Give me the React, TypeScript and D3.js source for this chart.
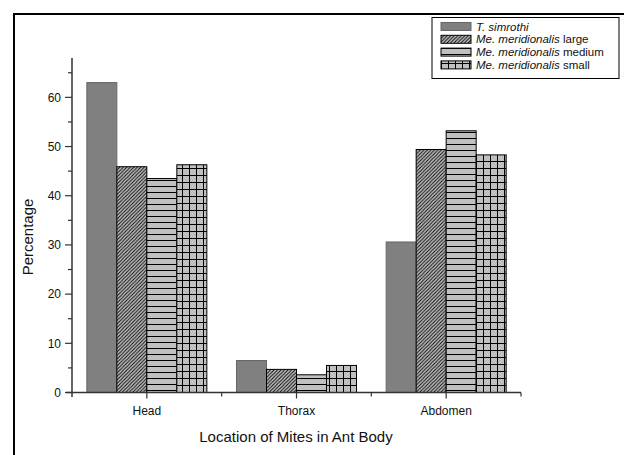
import React, { useEffect, useRef } from "react";
import * as d3 from "d3";

const categories = ["Head", "Thorax", "Abdomen"];
const seriesNames = [
  ["T. simrothi", ""],
  ["Me. meridionalis", " large"],
  ["Me. meridionalis", " medium"],
  ["Me. meridionalis", " small"],
];
const simrothi = [63.0, 6.5, 30.6];
const merLarge = [45.9, 4.7, 49.4];
const merMedium = [43.5, 3.6, 53.2];
const merSmall = [46.3, 5.5, 48.3];
const yTicks = [0, 10, 20, 30, 40, 50, 60];

const App = () => {
  const ref = useRef<SVGSVGElement>(null);

  useEffect(() => {
    const svg = d3.select(ref.current);
    svg.selectAll("*").remove();
    const font = "'Liberation Sans', Arial, sans-serif";

    const x = d3.scaleBand().domain(categories).range([72, 521]).padding(0);
    const y = d3.scaleLinear().domain([0, 68]).range([392.5, 58]);
    const inner = d3
      .scaleBand()
      .domain(["0", "1", "2", "3"])
      .range([0, 120]);

    // patterns
    const defs = svg.append("defs");
    const p1 = defs
      .append("pattern")
      .attr("id", "diag")
      .attr("patternUnits", "userSpaceOnUse")
      .attr("width", 3.5)
      .attr("height", 3.5);
    p1.append("rect").attr("width", 3.5).attr("height", 3.5).attr("fill", "#c0c0c0");
    p1.append("path")
      .attr("d", "M-1,1 L1,-1 M0,3.5 L3.5,0 M2.5,4.5 L4.5,2.5")
      .attr("stroke", "#000")
      .attr("stroke-width", 0.9);

    const p2 = defs
      .append("pattern")
      .attr("id", "horiz")
      .attr("patternUnits", "userSpaceOnUse")
      .attr("width", 6)
      .attr("height", 6);
    p2.append("rect").attr("width", 6).attr("height", 6).attr("fill", "#c0c0c0");
    p2.append("path").attr("d", "M0,0.5 H6").attr("stroke", "#000").attr("stroke-width", 1);

    const p3 = defs
      .append("pattern")
      .attr("id", "grid")
      .attr("patternUnits", "userSpaceOnUse")
      .attr("width", 7)
      .attr("height", 7);
    p3.append("rect").attr("width", 7).attr("height", 7).attr("fill", "#c0c0c0");
    p3.append("path")
      .attr("d", "M0,0.5 H7 M0.5,0 V7")
      .attr("stroke", "#000")
      .attr("stroke-width", 1);

    const fills = ["#808080", "url(#diag)", "url(#horiz)", "url(#grid)"];
    const strokes = ["#666", "#000", "#000", "#000"];
    const series = [simrothi, merLarge, merMedium, merSmall];

    // outer frame
    svg
      .append("path")
      .attr("d", "M14,455 V14 H624")
      .attr("fill", "none")
      .attr("stroke", "#000")
      .attr("stroke-width", 2);

    // bars
    series.forEach((vals, si) => {
      svg
        .append("g")
        .selectAll("rect")
        .data(vals)
        .join("rect")
        .attr("x", (d, i) => x(categories[i])! + (x.bandwidth() - 120) / 2 + inner(String(si))!)
        .attr("y", (d) => y(d))
        .attr("width", inner.bandwidth())
        .attr("height", (d) => y(0) - y(d))
        .attr("fill", fills[si])
        .attr("stroke", strokes[si])
        .attr("stroke-width", 1);
    });

    // y axis
    const axisColor = "#333";
    svg
      .append("line")
      .attr("x1", 72)
      .attr("x2", 72)
      .attr("y1", 58)
      .attr("y2", 397)
      .attr("stroke", axisColor)
      .attr("stroke-width", 1.5);
    const yMinor = d3.range(5, 68, 10);
    svg
      .append("g")
      .selectAll("line")
      .data(yMinor)
      .join("line")
      .attr("x1", 68)
      .attr("x2", 72)
      .attr("y1", (d) => y(d))
      .attr("y2", (d) => y(d))
      .attr("stroke", axisColor)
      .attr("stroke-width", 1.2);
    svg
      .append("g")
      .selectAll("line")
      .data(yTicks)
      .join("line")
      .attr("x1", 65)
      .attr("x2", 72)
      .attr("y1", (d) => y(d))
      .attr("y2", (d) => y(d))
      .attr("stroke", axisColor)
      .attr("stroke-width", 1.2);
    svg
      .append("g")
      .selectAll("text")
      .data(yTicks)
      .join("text")
      .attr("x", 61)
      .attr("y", (d) => y(d))
      .attr("dy", "0.35em")
      .attr("text-anchor", "end")
      .attr("font-family", font)
      .attr("font-size", 12)
      .attr("fill", "#111")
      .text((d) => d);

    // x axis
    svg
      .append("line")
      .attr("x1", 66)
      .attr("x2", 521)
      .attr("y1", y(0))
      .attr("y2", y(0))
      .attr("stroke", axisColor)
      .attr("stroke-width", 1.5);
    svg
      .append("g")
      .selectAll("line")
      .data(categories)
      .join("line")
      .attr("x1", (d) => x(d)! + x.bandwidth() / 2)
      .attr("x2", (d) => x(d)! + x.bandwidth() / 2)
      .attr("y1", y(0))
      .attr("y2", y(0) + 6)
      .attr("stroke", axisColor)
      .attr("stroke-width", 1.2);
    svg
      .append("g")
      .selectAll("line")
      .data(categories.slice(1).concat(["end"]))
      .join("line")
      .attr("x1", (d, i) => (i < 2 ? x(d)! : x.range()[1]))
      .attr("x2", (d, i) => (i < 2 ? x(d)! : x.range()[1]))
      .attr("y1", y(0))
      .attr("y2", y(0) + 4)
      .attr("stroke", axisColor)
      .attr("stroke-width", 1.2);
    svg
      .append("g")
      .selectAll("text")
      .data(categories)
      .join("text")
      .attr("x", (d) => x(d)! + x.bandwidth() / 2)
      .attr("y", 415)
      .attr("text-anchor", "middle")
      .attr("font-family", font)
      .attr("font-size", 12)
      .attr("fill", "#111")
      .text((d) => d);

    // axis titles
    svg
      .append("text")
      .attr("x", 296)
      .attr("y", 442)
      .attr("text-anchor", "middle")
      .attr("font-family", font)
      .attr("font-size", 15)
      .attr("fill", "#111")
      .text("Location of Mites in Ant Body");
    svg
      .append("text")
      .attr("transform", `translate(33,237) rotate(-90)`)
      .attr("text-anchor", "middle")
      .attr("font-family", font)
      .attr("font-size", 15)
      .attr("fill", "#111")
      .text("Percentage");

    // legend
    const lg = svg.append("g");
    lg.append("rect")
      .attr("x", 432)
      .attr("y", 17.5)
      .attr("width", 187)
      .attr("height", 61)
      .attr("fill", "#fff")
      .attr("stroke", "#000")
      .attr("stroke-width", 1);
    seriesNames.forEach((nm, i) => {
      const cy = 26.5 + i * 12.8;
      lg.append("rect")
        .attr("x", 441)
        .attr("y", cy - 4)
        .attr("width", 30)
        .attr("height", 8)
        .attr("fill", fills[i])
        .attr("stroke", strokes[i])
        .attr("stroke-width", 1);
      const t = lg
        .append("text")
        .attr("x", 476)
        .attr("y", cy)
        .attr("dy", "0.36em")
        .attr("font-family", font)
        .attr("font-size", 11.5)
        .attr("fill", "#111");
      t.append("tspan").attr("font-style", "italic").text(nm[0]);
      if (nm[1]) t.append("tspan").attr("xml:space", "preserve").text(nm[1]);
    });
  }, []);

  return (
    <svg
      ref={ref}
      width={624}
      height={455}
      style={{ position: "absolute", left: 0, top: 0, background: "#fff" }}
    />
  );
};

export default App;
